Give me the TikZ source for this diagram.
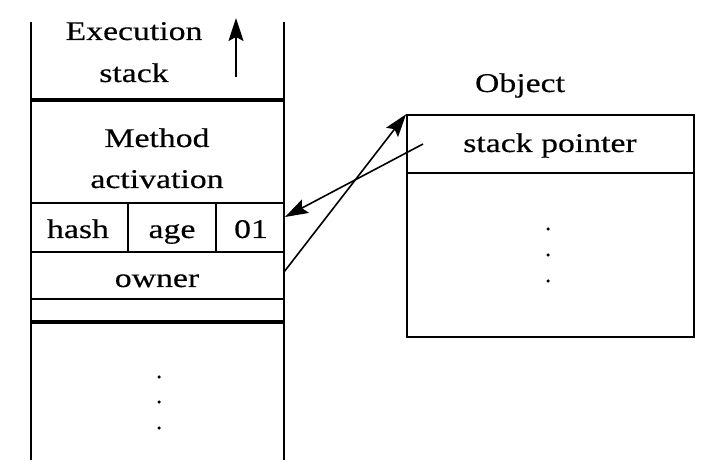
\documentclass[tikz,border=0pt]{standalone}
\usepackage{fontspec}
\setmainfont{Liberation Serif}[FakeStretch=1.25,FakeBold=0.4]
\usetikzlibrary{arrows.meta}
\begin{document}
\begin{tikzpicture}[x=1pt,y=-1pt,
  thinline/.style={line width=1.6pt},
  boldline/.style={line width=4.5pt},
  rowbox/.style={draw, line width=1.6pt, minimum width=253pt, inner sep=0pt},
  objbox/.style={draw, line width=1.7pt, minimum width=287pt, inner sep=0pt},
  lbl/.style={anchor=base, inner sep=0pt, font=\fontsize{27}{32}\selectfont},
  dotmark/.style={circle, fill, inner sep=0pt, minimum size=3.5pt},
  arr/.style={-{Stealth[length=23pt,width=15pt,inset=4pt]}, line width=1.6pt}]
\useasboundingbox (0,0) rectangle (721,473);
% stack sides
\draw[thinline] (31,22) -- (31,460);
\draw[thinline] (284,22) -- (284,460);
\draw[boldline] (31,100) -- (284,100);
\draw[boldline] (31,322) -- (284,322);
% rows
\node[rowbox, minimum height=49pt] (hashrow) at (157.5,227.5) {};
\node[rowbox, minimum height=47pt] (ownerrow) at (157.5,275.5) {};
\draw[thinline] (128,203) -- (128,252);
\draw[thinline] (216,203) -- (216,252);
% texts
\node[lbl] (exec) at (134,40) {Execution};
\node[lbl] (stk) at (134,82) {stack};
\node[lbl] (meth) at (157,147) {Method};
\node[lbl] (act) at (157,188) {activation};
\node[lbl] (hash) at (78,238) {hash};
\node[lbl] (age) at (172,238) {age};
\node[lbl] (zo) at (251,238) {01};
\node[lbl] (own) at (157,287) {owner};
% up arrow
\coordinate (upa) at (236,77);
\coordinate (upb) at (236,18);
\draw[arr] (upa) -- (upb);
% stack dots
\node[dotmark] (sd1) at (159,377) {};
\node[dotmark] (sd2) at (159,402) {};
\node[dotmark] (sd3) at (159,428) {};
% object
\node[lbl] (objlbl) at (520,92) {Object};
\node[objbox, minimum height=58pt] (spcell) at (550.5,144) {};
\node[objbox, minimum height=164pt] (body) at (550.5,255) {};
\node[lbl] (sp) at (550,152) {stack pointer};
\node[dotmark] (od1) at (548,229) {};
\node[dotmark] (od2) at (548,255) {};
\node[dotmark] (od3) at (548,281) {};
% connectors
\coordinate (ownsrc) at (284,272);
\coordinate (spsrc) at (423,144);
\coordinate (hashin) at (285,217);
\draw[arr] (ownsrc) -- (spcell.north west);
\draw[arr] (spsrc) -- (hashin);
\end{tikzpicture}
\end{document}
